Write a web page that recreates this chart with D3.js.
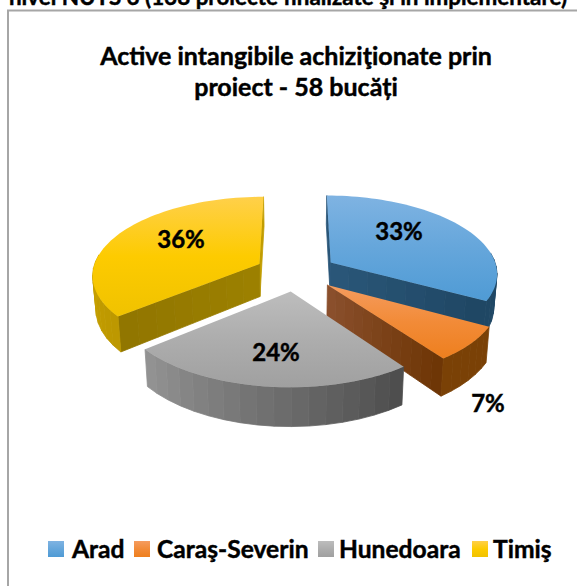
<!DOCTYPE html>
<html><head><meta charset="utf-8">
<script src="https://cdn.jsdelivr.net/npm/d3@7"></script>
<style>html,body{margin:0;padding:0;background:#fff;overflow:hidden}svg{display:block}text{font-family:Lato,"Open Sans",sans-serif;font-weight:700;fill:#000;stroke:#000;stroke-width:.45px}</style>
</head><body><div id="c"></div>
<script>
const categories=["Arad","Caraş-Severin","Hunedoara","Timiş"];
const shares=[33,7,24,36];
const percentLabels=["33%","7%","24%","36%"];
const titleLines=["Active intangibile achiziţionate prin","proiect - 58 bucăți"];
const headerText="nivel NUTS 3 (138 proiecte finalizate şi în implementare)";
const topColors=[["#7fb3e2","#65a6db","#4f9bd5"],["#f59c5f","#f28b38","#ee7f1e"],["#bdbdbd","#adadad","#a0a0a0"],["#ffd04a","#fdcb00","#f0c200"]];
const wallColors=[["#2a5678","#1f4764"],["#8a4f2c","#6e3606"],["#929292","#4e4e4e"],["#e0b400","#bd9800"]];
const W=577,H=586,cx=296,cy=272,R=167,tilt=.466,persp=.129,explode=41,depth=33;
const svg=d3.select("#c").append("svg").attr("width",W).attr("height",H);
const defs=svg.append("defs");
categories.forEach((c,i)=>{
  const g=defs.append("linearGradient").attr("id","t"+i).attr("x1",0).attr("x2",0).attr("y1",0).attr("y2",1);
  topColors[i].forEach((col,j)=>g.append("stop").attr("offset",j/2).attr("stop-color",col));
});
svg.append("text").attr("x",288).attr("y",5).attr("text-anchor","middle").style("font-size","22.4px").text(headerText);
svg.append("path").attr("d",`M8,${H}V10.5H${W}`).attr("fill","none").attr("stroke","#a6a6a6").attr("stroke-width",2);
const tl=svg.append("g");
titleLines.forEach((t,i)=>tl.append("text").attr("x",296).attr("y",65+i*31).attr("text-anchor","middle").style("font-size","25px").text(t));
const pie=d3.pie().sort(null)(shares);
function proj(a,rho,mid,z){
  const uu=rho*R*Math.sin(a)+explode*Math.sin(mid), vv=-rho*R*Math.cos(a)-explode*Math.cos(mid);
  const s=1/(1-persp*vv/R), k=1-.016*z;
  return [cx+uu*s*k, cy+vv*s*tilt+z*depth*s];
}
const line=d3.line();
const g=svg.append("g");
function topPath(d){
  const mid=(d.startAngle+d.endAngle)/2, pts=[proj(0,0,mid,0)];
  d3.range(0,61).forEach(j=>pts.push(proj(d.startAngle+(d.endAngle-d.startAngle)*j/60,1,mid,0)));
  return line(pts)+"Z";
}
function quad(a1,r1,a2,r2,mid){return line([proj(a1,r1,mid,0),proj(a2,r2,mid,0),proj(a2,r2,mid,1),proj(a1,r1,mid,1)])+"Z";}
function drawSlice(i){
  const d=pie[i],mid=(d.startAngle+d.endAngle)/2,col=d3.interpolateRgb(wallColors[i][0],wallColors[i][1]);
  const sg=g.append("g");
  const facet=(a1,r1,a2,r2,c)=>sg.append("path").attr("d",quad(a1,r1,a2,r2,mid)).attr("fill",c).attr("stroke",c).attr("stroke-width",.8);
  const wall=(a,n,from,to)=>d3.range(n).forEach(j=>{facet(a,j/n,a,(j+1)/n,d3.interpolateRgb(from,to)(n>1?j/(n-1):0));});
  if(i===0){wall(d.startAngle,1,"#2a5678","#2a5678");wall(d.endAngle,8,"#2a5678","#1f4764");}
  if(i===1){wall(d.endAngle,12,"#8a4f2c","#6e3606");}
  if(i===3){wall(d.endAngle,1,"#c29d00","#c29d00");wall(d.startAngle,8,"#9c8000","#917600");}
  const n=Math.max(6,Math.round((d.endAngle-d.startAngle)/.09));
  d3.range(n).forEach(j=>{
    const a1=d.startAngle+(d.endAngle-d.startAngle)*j/n,a2=d.startAngle+(d.endAngle-d.startAngle)*(j+1)/n;
    const t=(i===2||i===3)?1-(j/(n-1)):(j/(n-1));
    if(-Math.cos((a1+a2)/2)>-.15) facet(a1,1,a2,1,i===1?"#7a4106":col(t));
  });
  sg.append("path").attr("d",topPath(d)).attr("fill",`url(#t${i})`);
}
[0,3,1,2].forEach(drawSlice);
const lab=[[399,232],[488,404],[276,353],[181,240]];
percentLabels.forEach((t,i)=>svg.append("text").attr("x",lab[i][0]).attr("y",lab[i][1]+8).attr("text-anchor","middle").style("font-size","24px").text(t));
const legX=[48,134,318,472],txtX=[72,157,339,493];
categories.forEach((c,i)=>{
  svg.append("rect").attr("x",legX[i]).attr("y",541).attr("width",16).attr("height",16).attr("fill",`url(#t${i})`);
  svg.append("text").attr("x",txtX[i]).attr("y",558).style("font-size","24.6px").text(c);
});
</script></body></html>
